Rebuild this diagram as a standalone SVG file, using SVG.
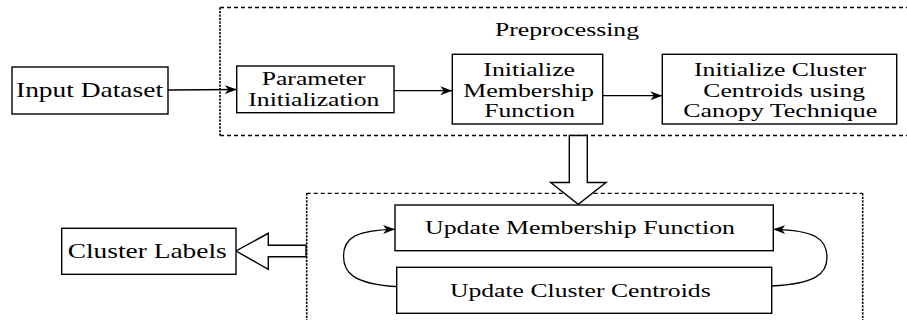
<svg xmlns="http://www.w3.org/2000/svg" width="907" height="320" viewBox="0 0 907 320">
  <style>
    .box { fill: #fff; stroke: #000; stroke-width: 1.4; }
    .hollow { fill: #fff; stroke: #000; stroke-width: 1.4; stroke-linejoin: miter; }
    .dash-h { stroke: #000; stroke-width: 1.3; stroke-dasharray: 4 3; fill: none; }
    .dash-v { stroke: #000; stroke-width: 1.6; stroke-dasharray: 2.2 1.3; fill: none; }
    .edge { stroke: #000; stroke-width: 1.3; fill: none; marker-end: url(#head); }
    text { font-family: "Liberation Serif", "Times New Roman", serif; fill: #000; }
    .lbl { font-size: 18px; }
    .big { font-size: 21px; }
  </style>
  <defs>
    <marker id="head" markerUnits="userSpaceOnUse" markerWidth="14" markerHeight="10" refX="12" refY="4.5" orient="auto">
      <path d="M0,0 L12,4.5 L0,9 L3.5,4.5 z" fill="#000"/>
    </marker>
  </defs>

  <!-- Group outlines -->
  <g id="preprocessing-group">
    <line class="dash-h" x1="220" y1="7.5" x2="907" y2="7.5"/>
    <line class="dash-h" x1="220" y1="135.5" x2="907" y2="135.5"/>
    <line class="dash-v" x1="220" y1="7.5" x2="220" y2="135.5"/>
    <text class="lbl" x="567" y="36" text-anchor="middle" textLength="144" lengthAdjust="spacingAndGlyphs">Preprocessing</text>
  </g>
  <g id="update-group">
    <line class="dash-h" x1="306.7" y1="193.3" x2="862.7" y2="193.3"/>
    <line class="dash-v" x1="306.7" y1="193.3" x2="306.7" y2="320"/>
    <line class="dash-v" x1="862.7" y1="193.3" x2="862.7" y2="320"/>
  </g>

  <!-- Connectors -->
  <g id="connectors">
    <path class="edge" d="M168,90 L236.7,89.5"/>
    <path class="edge" d="M394,90.7 L452.3,90.7"/>
    <path class="edge" d="M602.7,95.7 L662.3,95.7"/>
    <path class="edge" d="M398,286.7 C352,284 343.5,272 343.5,256 C343.5,238 356,230 395,229.3"/>
    <path class="edge" d="M771.7,286 C815,284 827,274 827,257.5 C827,239 815,230 773.3,229.3"/>
    <polygon class="hollow" points="569.3,135.5 587.3,135.5 587.3,182.5 606,182.5 578.3,204.3 550.7,182.5 569.3,182.5"/>
    <polygon class="hollow" points="306,245.3 306,256.7 268.3,256.7 268.3,269.3 236,251 268.3,233.3 268.3,245.3"/>
  </g>

  <!-- Nodes -->
  <g id="input-dataset">
    <rect class="box" x="12" y="67" width="156" height="47"/>
    <text class="big" x="89.5" y="97.3" text-anchor="middle" textLength="147" lengthAdjust="spacingAndGlyphs">Input Dataset</text>
  </g>
  <g id="parameter-initialization">
    <rect class="box" x="236.7" y="66" width="157.3" height="46.7"/>
    <text class="lbl" x="313.7" y="85" text-anchor="middle" textLength="104" lengthAdjust="spacingAndGlyphs">Parameter</text>
    <text class="lbl" x="313.8" y="106" text-anchor="middle" textLength="131" lengthAdjust="spacingAndGlyphs">Initialization</text>
  </g>
  <g id="initialize-membership">
    <rect class="box" x="452.3" y="54.3" width="150.4" height="69.7"/>
    <text class="lbl" x="529.2" y="76" text-anchor="middle" textLength="91.7" lengthAdjust="spacingAndGlyphs">Initialize</text>
    <text class="lbl" x="528.7" y="96.7" text-anchor="middle" textLength="130.7" lengthAdjust="spacingAndGlyphs">Membership</text>
    <text class="lbl" x="529.7" y="117.3" text-anchor="middle" textLength="90.7" lengthAdjust="spacingAndGlyphs">Function</text>
  </g>
  <g id="initialize-centroids">
    <rect class="box" x="662.3" y="54.3" width="234.4" height="69.7"/>
    <text class="lbl" x="780" y="76" text-anchor="middle" textLength="172" lengthAdjust="spacingAndGlyphs">Initialize Cluster</text>
    <text class="lbl" x="784.2" y="96.7" text-anchor="middle" textLength="161.7" lengthAdjust="spacingAndGlyphs">Centroids using</text>
    <text class="lbl" x="780.3" y="117.3" text-anchor="middle" textLength="194" lengthAdjust="spacingAndGlyphs">Canopy Technique</text>
  </g>
  <g id="update-membership">
    <rect class="box" x="395" y="205" width="378.3" height="45.7"/>
    <text class="lbl" x="580" y="234.3" text-anchor="middle" textLength="310" lengthAdjust="spacingAndGlyphs">Update Membership Function</text>
  </g>
  <g id="update-centroids">
    <rect class="box" x="396.7" y="267.3" width="375" height="46"/>
    <text class="lbl" x="580.3" y="296.7" text-anchor="middle" textLength="260.7" lengthAdjust="spacingAndGlyphs">Update Cluster Centroids</text>
  </g>
  <g id="cluster-labels">
    <rect class="box" x="61.7" y="228.3" width="174.3" height="46"/>
    <text class="big" x="147.2" y="258.3" text-anchor="middle" textLength="159" lengthAdjust="spacingAndGlyphs">Cluster Labels</text>
  </g>
</svg>
